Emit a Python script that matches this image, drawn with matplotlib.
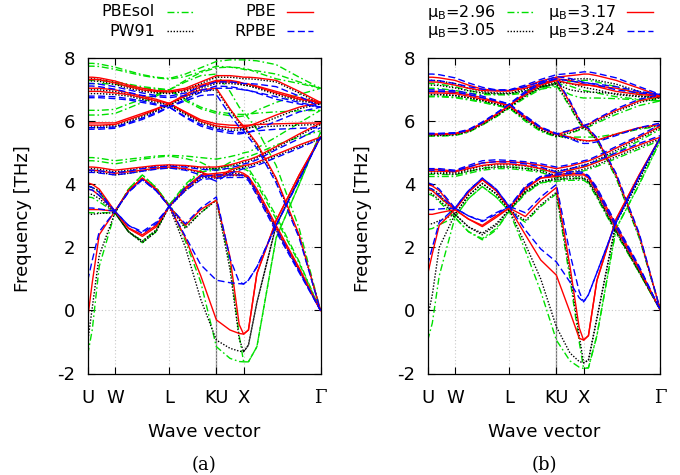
import matplotlib
matplotlib.use('Agg')
import matplotlib.pyplot as plt
from matplotlib.lines import Line2D

plt.rcParams['font.family'] = ['DejaVu Sans']
plt.rcParams['axes.unicode_minus'] = False

# wave vector sample points along U-W-L-K|U-X-Gamma
qpts = [0.0, 0.06, 0.15, 0.354, 0.53, 0.71, 0.89, 1.061, 1.27, 1.47, 1.673,
        1.85, 1.97, 2.027, 2.09, 2.2, 2.45, 2.75, 3.027]
tick_pos = [0.0, 0.354, 1.061, 1.673, 2.027, 3.027]
tick_lab = ['U', 'W', 'L', 'KU', 'X', 'Γ']

# ---------------- panel (a): functionals ----------------
a_pbesol = [
    [-1.4, -0.6, 1.4, 3.1, 2.5, 2.15, 2.5, 3.35, 2.2, 0.9, -1.15, -1.52, -1.62, -1.63, -1.63, -1.15, 2.3, 4.0, 5.65],
    [3.1, 3.1, 3.1, 3.1, 3.85, 4.3, 3.9, 3.35, 4.0, 4.45, 4.5, 4.6, 4.6, 4.55, 4.5, 4.1, 3.0, 1.55, 0.0],
    [3.6, 3.58, 3.45, 3.1, 3.85, 4.3, 3.9, 3.35, 2.65, 3.1, 3.5, 1.5, -0.8, -1.63, -1.63, -1.15, 2.3, 4.0, 5.65],
    [3.95, 3.9, 3.75, 3.1, 2.5, 2.2, 2.55, 3.35, 3.95, 4.4, 4.45, 4.5, 4.5, 4.5, 4.42, 4.0, 2.9, 1.5, 0.0],
    [4.75, 4.75, 4.73, 4.65, 4.72, 4.8, 4.86, 4.9, 4.82, 4.7, 4.45, 4.7, 4.8, 4.85, 4.88, 4.98, 5.25, 5.5, 5.7],
    [4.85, 4.85, 4.83, 4.75, 4.8, 4.85, 4.9, 4.92, 4.9, 4.85, 4.8, 4.88, 4.95, 5.0, 5.03, 5.15, 5.5, 5.95, 6.35],
    [7.84, 7.84, 7.82, 7.72, 7.6, 7.48, 7.4, 7.36, 7.5, 7.7, 7.9, 7.95, 7.95, 7.95, 7.94, 7.92, 7.8, 7.4, 7.05],
    [7.75, 7.75, 7.74, 7.65, 7.55, 7.45, 7.38, 7.34, 7.42, 7.58, 7.75, 7.72, 7.68, 7.65, 7.63, 7.6, 7.5, 7.25, 7.05],
    [7.3, 7.3, 7.3, 7.25, 7.18, 7.1, 7.05, 7.0, 6.7, 6.45, 6.3, 6.25, 6.22, 6.22, 6.23, 6.26, 6.3, 6.33, 6.35],
    [7.2, 7.2, 7.2, 7.18, 7.12, 7.06, 7.02, 7.0, 6.65, 6.4, 6.25, 6.18, 6.15, 6.17, 6.2, 6.35, 6.6, 6.85, 7.05],
    [6.35, 6.35, 6.35, 6.38, 6.55, 6.7, 6.85, 7.0, 7.25, 7.45, 7.5, 6.95, 6.45, 6.3, 6.1, 5.75, 4.6, 2.6, 0.0],
    [6.2, 6.2, 6.2, 6.25, 6.42, 6.6, 6.8, 7.0, 7.3, 7.55, 7.7, 7.72, 7.7, 7.68, 7.65, 7.55, 7.35, 7.2, 7.05],
]
a_pw91 = [
    [-1.0, 0.1, 1.75, 3.1, 2.5, 2.15, 2.5, 3.3, 2.0, 0.35, -0.94, -1.2, -1.29, -1.31, -1.1, 0.25, 2.7, 4.2, 5.5],
    [3.05, 3.05, 3.08, 3.1, 3.8, 4.2, 3.85, 3.3, 3.85, 4.25, 4.3, 4.35, 4.35, 4.3, 4.2, 3.8, 2.65, 1.3, 0.0],
    [3.7, 3.68, 3.55, 3.1, 3.8, 4.2, 3.85, 3.3, 2.6, 3.1, 3.5, 1.3, -0.9, -1.31, -1.1, 0.25, 2.7, 4.2, 5.5],
    [3.95, 3.9, 3.8, 3.1, 2.5, 2.2, 2.55, 3.3, 3.8, 4.2, 4.25, 4.28, 4.28, 4.28, 4.18, 3.7, 2.55, 1.25, 0.0],
    [4.4, 4.4, 4.38, 4.3, 4.35, 4.42, 4.5, 4.52, 4.48, 4.38, 4.18, 4.4, 4.5, 4.55, 4.58, 4.66, 4.9, 5.2, 5.45],
    [4.5, 4.5, 4.48, 4.4, 4.45, 4.52, 4.58, 4.6, 4.58, 4.52, 4.5, 4.58, 4.66, 4.7, 4.73, 4.84, 5.15, 5.55, 5.9],
    [7.35, 7.35, 7.33, 7.23, 7.1, 7.0, 6.93, 6.9, 7.0, 7.2, 7.4, 7.4, 7.37, 7.35, 7.35, 7.33, 7.25, 6.9, 6.55],
    [7.28, 7.28, 7.27, 7.17, 7.05, 6.95, 6.9, 6.88, 6.95, 7.1, 7.25, 7.25, 7.2, 7.15, 7.13, 7.07, 6.9, 6.7, 6.55],
    [7.0, 7.0, 7.0, 6.95, 6.85, 6.75, 6.65, 6.52, 6.25, 6.0, 5.85, 5.8, 5.78, 5.78, 5.8, 5.82, 5.85, 5.88, 5.9],
    [6.88, 6.88, 6.88, 6.85, 6.8, 6.7, 6.6, 6.52, 6.22, 5.95, 5.8, 5.72, 5.72, 5.75, 5.78, 5.88, 6.12, 6.4, 6.55],
    [5.85, 5.85, 5.85, 5.88, 6.02, 6.18, 6.35, 6.52, 6.75, 6.95, 7.0, 6.35, 5.95, 5.8, 5.6, 5.25, 4.15, 2.35, 0.0],
    [5.8, 5.8, 5.8, 5.83, 5.98, 6.14, 6.32, 6.52, 6.8, 7.05, 7.2, 7.2, 7.17, 7.15, 7.13, 7.05, 6.85, 6.65, 6.55],
]
a_pbe = [
    [-0.25, 0.9, 2.4, 3.15, 2.6, 2.35, 2.65, 3.3, 2.3, 1.1, -0.3, -0.62, -0.73, -0.75, -0.62, 1.17, 2.85, 4.3, 5.5],
    [3.2, 3.2, 3.2, 3.15, 3.8, 4.2, 3.85, 3.3, 3.9, 4.3, 4.35, 4.4, 4.4, 4.35, 4.25, 3.85, 2.7, 1.35, 0.0],
    [3.85, 3.82, 3.65, 3.15, 3.8, 4.2, 3.85, 3.3, 2.7, 3.2, 3.5, 1.7, -0.45, -0.75, -0.62, 1.17, 2.85, 4.3, 5.5],
    [4.05, 4.0, 3.85, 3.15, 2.62, 2.4, 2.7, 3.3, 3.85, 4.25, 4.3, 4.3, 4.3, 4.3, 4.2, 3.75, 2.6, 1.3, 0.0],
    [4.45, 4.45, 4.43, 4.35, 4.4, 4.45, 4.52, 4.55, 4.5, 4.4, 4.2, 4.45, 4.55, 4.6, 4.62, 4.7, 4.95, 5.25, 5.5],
    [4.55, 4.55, 4.53, 4.45, 4.5, 4.55, 4.6, 4.62, 4.6, 4.55, 4.55, 4.62, 4.7, 4.75, 4.78, 4.88, 5.2, 5.6, 5.95],
    [7.4, 7.4, 7.38, 7.28, 7.15, 7.05, 6.98, 6.96, 7.05, 7.25, 7.45, 7.45, 7.42, 7.4, 7.4, 7.38, 7.3, 6.95, 6.6],
    [7.33, 7.33, 7.32, 7.22, 7.1, 7.0, 6.95, 6.93, 7.0, 7.15, 7.3, 7.3, 7.25, 7.2, 7.18, 7.12, 6.95, 6.75, 6.6],
    [7.05, 7.05, 7.05, 7.0, 6.9, 6.8, 6.7, 6.57, 6.3, 6.05, 5.92, 5.88, 5.87, 5.87, 5.88, 5.9, 5.92, 5.94, 5.95],
    [6.95, 6.95, 6.95, 6.9, 6.85, 6.75, 6.65, 6.57, 6.28, 6.0, 5.85, 5.8, 5.8, 5.82, 5.85, 5.95, 6.2, 6.45, 6.6],
    [5.95, 5.95, 5.95, 5.95, 6.1, 6.25, 6.4, 6.57, 6.8, 7.0, 7.05, 6.4, 6.0, 5.85, 5.65, 5.3, 4.2, 2.4, 0.0],
    [5.88, 5.88, 5.88, 5.9, 6.05, 6.2, 6.38, 6.57, 6.85, 7.1, 7.26, 7.25, 7.22, 7.2, 7.18, 7.1, 6.9, 6.7, 6.6],
]
a_rpbe = [
    [0.95, 1.6, 2.5, 3.15, 2.7, 2.45, 2.75, 3.3, 2.35, 1.45, 0.96, 0.88, 0.85, 0.84, 0.96, 1.38, 2.7, 4.15, 5.5],
    [3.25, 3.25, 3.22, 3.15, 3.75, 4.15, 3.8, 3.3, 3.9, 4.25, 4.3, 4.3, 4.3, 4.28, 4.2, 3.75, 2.6, 1.25, 0.0],
    [3.85, 3.82, 3.65, 3.15, 3.75, 4.15, 3.8, 3.3, 2.75, 3.25, 3.6, 1.65, 0.9, 0.84, 0.96, 1.38, 2.7, 4.15, 5.5],
    [3.95, 3.9, 3.75, 3.15, 2.7, 2.5, 2.8, 3.3, 3.8, 4.15, 4.2, 4.22, 4.22, 4.22, 4.12, 3.65, 2.5, 1.2, 0.0],
    [4.38, 4.38, 4.36, 4.3, 4.35, 4.42, 4.48, 4.52, 4.45, 4.3, 4.1, 4.35, 4.45, 4.5, 4.52, 4.6, 4.85, 5.15, 5.45],
    [4.45, 4.45, 4.43, 4.37, 4.42, 4.5, 4.55, 4.58, 4.55, 4.48, 4.45, 4.52, 4.6, 4.65, 4.68, 4.78, 5.1, 5.45, 5.8],
    [7.2, 7.2, 7.18, 7.1, 7.0, 6.9, 6.82, 6.8, 6.9, 7.1, 7.25, 7.25, 7.22, 7.2, 7.2, 7.18, 7.1, 6.8, 6.45],
    [7.12, 7.12, 7.1, 7.02, 6.92, 6.82, 6.78, 6.75, 6.82, 6.98, 7.12, 7.1, 7.05, 7.0, 6.98, 6.92, 6.78, 6.6, 6.45],
    [6.8, 6.8, 6.8, 6.78, 6.72, 6.65, 6.55, 6.45, 6.15, 5.9, 5.75, 5.68, 5.65, 5.65, 5.66, 5.7, 5.75, 5.78, 5.8],
    [6.75, 6.75, 6.75, 6.72, 6.68, 6.6, 6.52, 6.45, 6.12, 5.85, 5.7, 5.62, 5.6, 5.62, 5.65, 5.75, 6.0, 6.3, 6.45],
    [5.8, 5.8, 5.8, 5.82, 5.95, 6.1, 6.28, 6.45, 6.65, 6.82, 6.85, 6.2, 5.82, 5.7, 5.5, 5.15, 4.05, 2.3, 0.0],
    [5.75, 5.75, 5.75, 5.78, 5.92, 6.06, 6.24, 6.45, 6.7, 6.92, 7.05, 7.05, 7.02, 7.0, 6.98, 6.9, 6.7, 6.55, 6.45],
]

# ---------------- panel (b): magnetic moments ----------------
b_296 = [
    [-0.95, -0.4, 1.1, 2.95, 2.5, 2.24, 2.55, 3.15, 1.9, 0.6, -0.94, -1.6, -1.8, -1.84, -1.82, -0.8, 2.6, 4.0, 5.4],
    [2.57, 2.6, 2.72, 2.95, 3.55, 3.93, 3.6, 3.15, 3.75, 4.05, 4.15, 4.2, 4.2, 4.18, 4.08, 3.65, 2.5, 1.2, 0.0],
    [3.7, 3.65, 3.45, 2.95, 3.55, 3.93, 3.6, 3.15, 2.8, 3.3, 3.7, 1.0, -1.0, -1.84, -1.82, -0.8, 2.6, 4.0, 5.4],
    [3.85, 3.8, 3.65, 2.95, 2.5, 2.28, 2.6, 3.15, 3.7, 4.05, 4.1, 4.13, 4.13, 4.13, 4.03, 3.58, 2.45, 1.2, 0.0],
    [4.25, 4.25, 4.25, 4.25, 4.35, 4.45, 4.5, 4.5, 4.45, 4.38, 4.22, 4.32, 4.4, 4.43, 4.47, 4.57, 4.82, 5.12, 5.4],
    [4.32, 4.32, 4.32, 4.3, 4.4, 4.52, 4.56, 4.56, 4.52, 4.45, 4.37, 4.45, 4.52, 4.56, 4.6, 4.72, 5.02, 5.38, 5.75],
    [7.2, 7.2, 7.18, 7.1, 6.98, 6.9, 6.86, 6.86, 6.96, 7.1, 7.22, 7.26, 7.28, 7.3, 7.3, 7.25, 7.1, 6.85, 6.65],
    [7.05, 7.05, 7.04, 6.98, 6.9, 6.85, 6.84, 6.84, 6.9, 7.02, 7.1, 6.85, 6.76, 6.74, 6.74, 6.74, 6.72, 6.68, 6.65],
    [6.8, 6.8, 6.8, 6.77, 6.7, 6.62, 6.52, 6.42, 6.05, 5.7, 5.52, 5.5, 5.5, 5.5, 5.5, 5.5, 5.6, 5.75, 5.85],
    [6.78, 6.78, 6.78, 6.75, 6.68, 6.6, 6.5, 6.42, 6.0, 5.68, 5.5, 5.62, 5.72, 5.78, 5.82, 5.95, 6.22, 6.5, 6.65],
    [5.55, 5.55, 5.55, 5.57, 5.67, 5.9, 6.15, 6.42, 6.75, 7.02, 7.15, 6.45, 5.95, 5.78, 5.68, 5.38, 4.2, 2.3, 0.0],
    [5.53, 5.53, 5.53, 5.55, 5.65, 5.88, 6.14, 6.42, 6.8, 7.06, 7.2, 7.12, 7.02, 6.98, 6.95, 6.9, 6.78, 6.7, 6.65],
]
b_305 = [
    [-0.2, 0.5, 2.0, 3.05, 2.65, 2.4, 2.7, 3.2, 2.1, 1.0, -0.52, -1.35, -1.62, -1.66, -1.58, -0.25, 2.8, 4.15, 5.5],
    [2.75, 2.75, 2.85, 3.05, 3.65, 4.03, 3.7, 3.2, 3.8, 4.1, 4.2, 4.25, 4.25, 4.22, 4.12, 3.7, 2.55, 1.25, 0.0],
    [3.75, 3.7, 3.5, 3.05, 3.65, 4.03, 3.7, 3.2, 2.85, 3.35, 3.75, 1.2, -0.8, -1.66, -1.58, -0.25, 2.8, 4.15, 5.5],
    [3.9, 3.85, 3.7, 3.05, 2.65, 2.45, 2.75, 3.2, 3.75, 4.1, 4.15, 4.18, 4.18, 4.18, 4.08, 3.62, 2.5, 1.22, 0.0],
    [4.35, 4.35, 4.35, 4.32, 4.42, 4.5, 4.55, 4.55, 4.5, 4.42, 4.28, 4.38, 4.45, 4.48, 4.52, 4.62, 4.88, 5.18, 5.45],
    [4.4, 4.4, 4.4, 4.36, 4.47, 4.58, 4.62, 4.62, 4.58, 4.5, 4.42, 4.5, 4.58, 4.62, 4.66, 4.78, 5.08, 5.45, 5.8],
    [7.3, 7.3, 7.28, 7.2, 7.05, 6.95, 6.9, 6.9, 7.02, 7.18, 7.3, 7.33, 7.35, 7.35, 7.35, 7.3, 7.18, 6.95, 6.75],
    [7.15, 7.15, 7.14, 7.06, 6.97, 6.9, 6.88, 6.88, 6.97, 7.1, 7.18, 7.0, 6.95, 6.93, 6.93, 6.92, 6.88, 6.8, 6.75],
    [6.85, 6.85, 6.85, 6.82, 6.75, 6.66, 6.55, 6.45, 6.1, 5.75, 5.55, 5.45, 5.4, 5.38, 5.38, 5.4, 5.58, 5.78, 5.88],
    [6.85, 6.85, 6.85, 6.82, 6.75, 6.66, 6.55, 6.45, 6.05, 5.72, 5.52, 5.65, 5.75, 5.8, 5.85, 6.0, 6.3, 6.6, 6.75],
    [5.57, 5.57, 5.57, 5.59, 5.69, 5.92, 6.18, 6.45, 6.8, 7.08, 7.2, 6.5, 5.98, 5.8, 5.7, 5.4, 4.25, 2.35, 0.0],
    [5.55, 5.55, 5.55, 5.57, 5.67, 5.9, 6.17, 6.45, 6.85, 7.12, 7.25, 7.2, 7.12, 7.08, 7.05, 7.0, 6.85, 6.78, 6.75],
]
b_317 = [
    [1.15, 1.8, 2.7, 3.2, 2.9, 2.66, 2.95, 3.25, 2.4, 1.6, 1.12, -0.05, -0.88, -0.94, -0.8, 0.95, 2.9, 4.3, 5.5],
    [3.05, 3.05, 3.1, 3.2, 3.75, 4.15, 3.8, 3.25, 3.9, 4.2, 4.3, 4.35, 4.35, 4.33, 4.25, 3.85, 2.7, 1.35, 0.0],
    [3.85, 3.8, 3.6, 3.2, 3.75, 4.15, 3.8, 3.25, 2.98, 3.5, 3.9, 1.4, -0.55, -0.94, -0.8, 0.95, 2.9, 4.3, 5.5],
    [4.0, 3.95, 3.8, 3.2, 2.9, 2.7, 3.0, 3.25, 3.85, 4.2, 4.25, 4.3, 4.3, 4.3, 4.2, 3.75, 2.6, 1.3, 0.0],
    [4.42, 4.42, 4.42, 4.4, 4.5, 4.6, 4.65, 4.65, 4.6, 4.5, 4.35, 4.45, 4.52, 4.55, 4.6, 4.7, 4.95, 5.25, 5.5],
    [4.48, 4.48, 4.47, 4.42, 4.55, 4.68, 4.72, 4.72, 4.68, 4.6, 4.5, 4.58, 4.66, 4.7, 4.74, 4.85, 5.15, 5.5, 5.85],
    [7.4, 7.4, 7.38, 7.3, 7.15, 7.02, 6.98, 6.98, 7.1, 7.28, 7.4, 7.45, 7.48, 7.5, 7.5, 7.45, 7.3, 7.05, 6.8],
    [7.25, 7.25, 7.24, 7.15, 7.05, 6.98, 6.96, 6.96, 7.05, 7.2, 7.3, 7.2, 7.16, 7.15, 7.15, 7.12, 7.05, 6.9, 6.8],
    [6.95, 6.95, 6.95, 6.92, 6.85, 6.75, 6.62, 6.5, 6.15, 5.8, 5.6, 5.5, 5.42, 5.4, 5.38, 5.4, 5.6, 5.8, 5.9],
    [6.9, 6.9, 6.9, 6.88, 6.8, 6.7, 6.6, 6.5, 6.1, 5.78, 5.58, 5.7, 5.8, 5.85, 5.9, 6.05, 6.35, 6.65, 6.8],
    [5.6, 5.6, 5.6, 5.62, 5.72, 5.95, 6.22, 6.5, 6.85, 7.15, 7.3, 6.6, 6.05, 5.85, 5.75, 5.45, 4.3, 2.4, 0.0],
    [5.58, 5.58, 5.58, 5.6, 5.7, 5.93, 6.21, 6.5, 6.9, 7.2, 7.35, 7.3, 7.22, 7.18, 7.15, 7.1, 6.95, 6.85, 6.8],
]
b_324 = [
    [1.45, 2.0, 2.8, 3.25, 3.0, 2.82, 3.05, 3.3, 2.55, 1.95, 1.54, 0.9, 0.4, 0.27, 0.5, 1.2, 2.8, 4.25, 5.5],
    [3.2, 3.2, 3.22, 3.25, 3.8, 4.2, 3.85, 3.3, 3.95, 4.25, 4.35, 4.4, 4.4, 4.38, 4.28, 3.9, 2.75, 1.4, 0.0],
    [3.9, 3.85, 3.65, 3.25, 3.8, 4.2, 3.85, 3.3, 3.1, 3.6, 4.0, 1.8, 0.6, 0.27, 0.5, 1.2, 2.8, 4.25, 5.5],
    [4.05, 4.0, 3.85, 3.25, 3.0, 2.85, 3.1, 3.3, 3.9, 4.25, 4.3, 4.35, 4.35, 4.35, 4.25, 3.8, 2.65, 1.35, 0.0],
    [4.45, 4.45, 4.45, 4.42, 4.55, 4.68, 4.72, 4.7, 4.65, 4.55, 4.4, 4.5, 4.57, 4.6, 4.65, 4.75, 5.0, 5.3, 5.55],
    [4.5, 4.5, 4.5, 4.45, 4.6, 4.75, 4.78, 4.76, 4.72, 4.65, 4.55, 4.63, 4.7, 4.75, 4.78, 4.9, 5.2, 5.55, 5.9],
    [7.5, 7.5, 7.48, 7.38, 7.22, 7.08, 7.0, 7.0, 7.15, 7.33, 7.48, 7.52, 7.55, 7.57, 7.57, 7.52, 7.38, 7.1, 6.85],
    [7.3, 7.3, 7.29, 7.2, 7.1, 7.02, 6.99, 6.99, 7.1, 7.25, 7.35, 7.28, 7.24, 7.22, 7.22, 7.18, 7.1, 6.95, 6.85],
    [7.0, 7.0, 7.0, 6.97, 6.9, 6.8, 6.67, 6.55, 6.18, 5.82, 5.62, 5.45, 5.33, 5.3, 5.3, 5.35, 5.55, 5.8, 5.95],
    [6.95, 6.95, 6.95, 6.93, 6.85, 6.75, 6.65, 6.55, 6.13, 5.8, 5.6, 5.72, 5.82, 5.87, 5.92, 6.08, 6.4, 6.7, 6.85],
    [5.62, 5.62, 5.62, 5.64, 5.74, 5.98, 6.26, 6.55, 6.9, 7.2, 7.35, 6.65, 6.08, 5.87, 5.78, 5.48, 4.35, 2.45, 0.0],
    [5.6, 5.6, 5.6, 5.62, 5.72, 5.96, 6.25, 6.55, 6.95, 7.25, 7.42, 7.36, 7.28, 7.24, 7.21, 7.16, 7.0, 6.9, 6.85],
]

labels_a = ['PBEsol', 'PW91', 'PBE', 'RPBE']
labels_b = ['μ$_{\\rm B}$=2.96', 'μ$_{\\rm B}$=3.05', 'μ$_{\\rm B}$=3.17', 'μ$_{\\rm B}$=3.24']

styles = [
    dict(color='#00e000', lw=1.0, linestyle=(0, (5, 2, 1.2, 2))),
    dict(color='black', lw=1.0, linestyle=(0, (1, 1.2))),
    dict(color='#ff0000', lw=1.0, linestyle='-'),
    dict(color='#0000ff', lw=1.0, linestyle=(0, (5, 2.5))),
]

W, H = 680, 475
fig = plt.figure(figsize=(W / 100, H / 100), dpi=100)


def px(x, y):
    return x / W, 1 - y / H


def setup(ax):
    ax.set_xlim(0, tick_pos[-1])
    ax.set_ylim(-2, 8)
    ax.set_xticks(tick_pos)
    ax.set_xticklabels(tick_lab)
    ax.get_xticklabels()[-1].set_fontfamily('DejaVu Serif')
    ax.set_yticks([-2, 0, 2, 4, 6, 8])
    ax.tick_params(direction='in', length=5, width=0.8, top=True, right=True,
                   labelsize=13)
    ax.tick_params(axis='y', pad=9)
    ax.tick_params(axis='x', pad=11)
    ax.grid(True, color='#c8c8c8', linestyle=(0, (1, 2)), linewidth=0.8)
    ax.axvline(tick_pos[3], color='#707070', lw=0.9, zorder=1)
    for s in ax.spines.values():
        s.set_linewidth(0.9)
    ax.set_ylabel('Frequency [THz]', fontsize=13)
    ax.yaxis.set_label_coords(-0.24, 0.49)


axa = fig.add_axes([87.7 / W, 1 - 373.5 / H, 232.8 / W, 315.2 / H])
axb = fig.add_axes([427.7 / W, 1 - 373.5 / H, 232.8 / W, 315.2 / H])

for ax, group, labs, x0, tag in [
        (axa, [a_pbesol, a_pw91, a_pbe, a_rpbe], labels_a, 0, '(a)'),
        (axb, [b_296, b_305, b_317, b_324], labels_b, 340, '(b)')]:
    setup(ax)
    for bands, st in zip(group, styles):
        for br in bands:
            ax.plot(qpts, br, **st)
    # key, gnuplot style: right-justified text, sample to its right
    for i, (lab, st) in enumerate(zip(labs, styles)):
        col, row = divmod(i, 2)
        tx = x0 + (155 if col == 0 else 276)
        lx = x0 + (167 if col == 0 else 287)
        ty = 12 + 19 * row
        fig.text(*px(tx, ty), lab, ha='right', va='center', fontsize=11.5)
        fig.add_artist(Line2D([px(lx, 0)[0], px(lx + 26, 0)[0]],
                              [px(0, ty)[1]] * 2, transform=fig.transFigure, **st))
    fig.text(*px(x0 + 204, 432), 'Wave vector', ha='center', va='center', fontsize=13)
    fig.text(*px(x0 + 204, 465), tag, ha='center', va='center', fontsize=13,
             family='DejaVu Serif')

fig.savefig('out.png', dpi=100)
